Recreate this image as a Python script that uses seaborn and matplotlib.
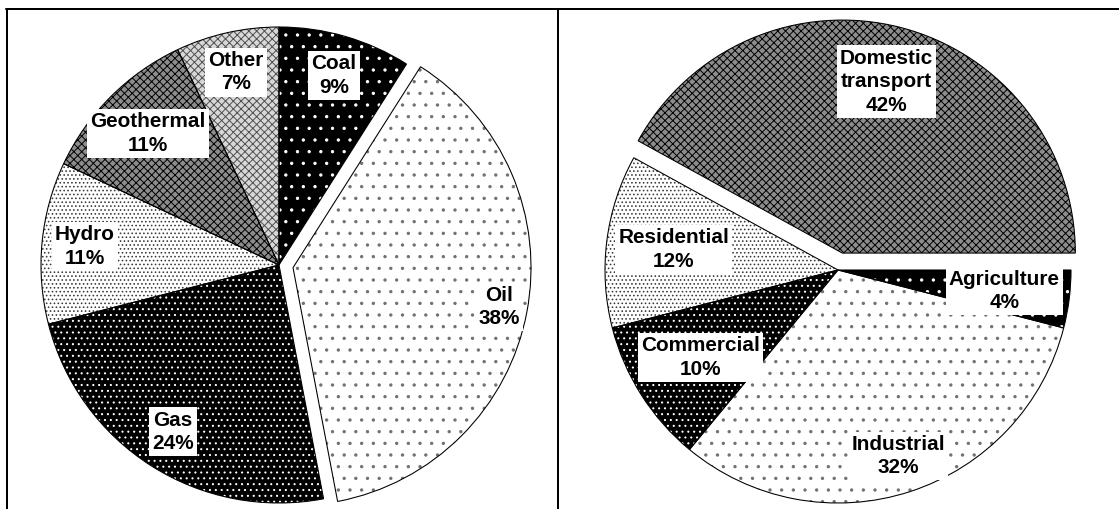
import numpy as np
import matplotlib
matplotlib.use("Agg")
import matplotlib.pyplot as plt
from matplotlib.lines import Line2D
import seaborn as sns

# Energy supply by source (%)
sources = ["Coal", "Oil", "Gas", "Hydro", "Geothermal", "Other"]
source_share = [9, 38, 24, 11, 11, 7]

# Energy demand by sector (%)
sectors = ["Domestic\ntransport", "Residential", "Commercial", "Industrial", "Agriculture"]
sector_share = [42, 12, 10, 32, 4]

sns.set_theme(style="white")
plt.rcParams["font.family"] = ["Liberation Sans", "DejaVu Sans"]
plt.rcParams["hatch.linewidth"] = 1.0

DPI = 70
W, H = 1119, 509
fig = plt.figure(figsize=(W / DPI, H / DPI), dpi=DPI)
fig.patch.set_facecolor("white")

# (face colour, hatch, hatch colour) for each kind of fill
DARK_SPARSE = ("black", ".", "white")
LIGHT_SPARSE = ("white", ".", "#707070")
DARK_DENSE = ("black", "..", "white")
LIGHT_DENSE = ("white", "...", "#3a3a3a")
DARK_CHECK = ("#8c8c8c", "xxx", "black")
LIGHT_CHECK = ("#d8d8d8", "xxx", "#505050")

source_fill = [DARK_SPARSE, LIGHT_SPARSE, DARK_DENSE, LIGHT_DENSE, DARK_CHECK, LIGHT_CHECK]
sector_fill = [DARK_CHECK, LIGHT_DENSE, DARK_DENSE, LIGHT_SPARSE, DARK_SPARSE]

FS = 21.3  # label size in points
PAD = 1.15


def pie_axes(cx, cy, r):
    half = r * PAD
    ax = fig.add_axes([(cx - half) / W, 1 - (cy + half) / H, 2 * half / W, 2 * half / H])
    return ax


def draw_pie(ax, names, shares, fills, explode, startangle, counterclock, label_r):
    faces = [f[0] for f in fills]
    hatches = [f[1] for f in fills]
    wedges, _ = ax.pie(shares, explode=explode, startangle=startangle,
                       counterclock=counterclock, colors=faces, hatch=hatches,
                       wedgeprops=dict(linewidth=0))
    for w, f in zip(wedges, fills):
        w.set_edgecolor(f[2])
        w.set_linewidth(0)
    ax.pie(shares, explode=explode, startangle=startangle, counterclock=counterclock,
           wedgeprops=dict(fill=False, edgecolor="black", linewidth=1.1))
    for w, name, val, fr in zip(wedges, names, shares, label_r):
        ang = np.deg2rad(0.5 * (w.theta1 + w.theta2))
        x = w.center[0] + fr * w.r * np.cos(ang)
        y = w.center[1] + fr * w.r * np.sin(ang)
        ax.text(x, y, f"{name}\n{val}%", ha="center", va="center", fontsize=FS,
                fontweight="bold", color="black", linespacing=1.3,
                bbox=dict(boxstyle="square,pad=0.15", fc="white", ec="none"))
    ax.set_xlim(-PAD, PAD)
    ax.set_ylim(-PAD, PAD)
    ax.set_aspect("equal")
    ax.axis("off")


ax1 = pie_axes(279, 265, 238)
draw_pie(ax1, sources, source_share, source_fill,
         explode=[0, 0.06, 0, 0, 0, 0], startangle=90, counterclock=False,
         label_r=[0.83, 0.88, 0.83, 0.82, 0.78, 0.83])

ax2 = pie_axes(838, 270, 233)
draw_pie(ax2, sectors, sector_share, sector_fill,
         explode=[0.075, 0, 0, 0, 0], startangle=0, counterclock=True,
         label_r=[0.76, 0.71, 0.70, 0.84, 0.72])

# Panel frame
lw = 2 * 72 / DPI
y_top = 1 - 8.7 / H
fig.add_artist(Line2D([5.7 / W, 1], [y_top, y_top], transform=fig.transFigure,
                      color="black", lw=lw))
for xp in (6.7, 557.8):
    fig.add_artist(Line2D([xp / W, xp / W], [0, y_top], transform=fig.transFigure,
                          color="black", lw=lw))

fig.savefig("out.png", dpi=DPI, facecolor="white")
